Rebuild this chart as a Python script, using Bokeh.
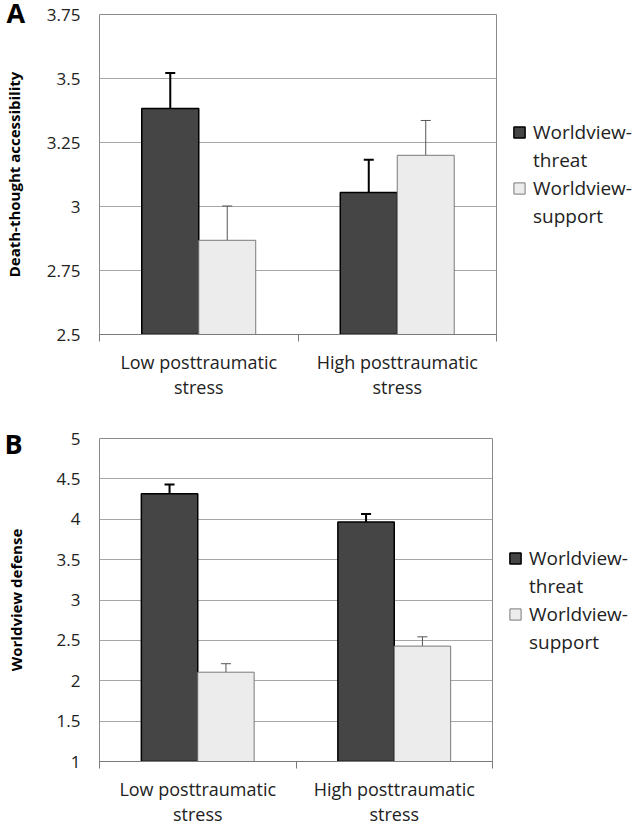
from bokeh.plotting import figure
from bokeh.models import (ColumnDataSource, Range1d, FixedTicker, Whisker, TeeHead,
                          Legend, LegendItem)
from bokeh.layouts import column
from bokeh.embed import file_html
from bokeh.resources import INLINE

# ---------------- data ----------------
categories = ["Low posttraumatic\nstress", "High posttraumatic\nstress"]
series_label_lines = [["Worldview-", "threat"], ["Worldview-", "support"]]

a_threat = [3.383, 3.055]
a_threat_err = [0.138, 0.128]
a_support = [2.868, 3.200]
a_support_err = [0.134, 0.136]
a_ticks = [2.5, 2.75, 3.0, 3.25, 3.5, 3.75]
a_tick_labels = ["2.5", "2.75", "3", "3.25", "3.5", "3.75"]
a_ylabel = "Death-thought accessibility"

b_threat = [4.315, 3.965]
b_threat_err = [0.115, 0.10]
b_support = [2.106, 2.429]
b_support_err = [0.105, 0.115]
b_ticks = [1, 1.5, 2, 2.5, 3, 3.5, 4, 4.5, 5]
b_tick_labels = ["1", "1.5", "2", "2.5", "3", "3.5", "4", "4.5", "5"]
b_ylabel = "Worldview defense"

FONT = "Open Sans"
DARK = "#454545"
LIGHT = "#ececec"
BAR_W = 0.287
OFF = BAR_W / 2


def panel(letter, threat, terr, support, serr, ticks, tick_labels, ylabel,
          fw, fh, mleft, mright, mtop, mbottom, title_standoff, letter_lh, letter_standoff):
    n = len(categories)
    centers = [i + 0.5 for i in range(n)]
    p = figure(frame_width=fw, frame_height=fh, output_backend="svg", toolbar_location=None,
               x_range=Range1d(0, n), y_range=Range1d(ticks[0], ticks[-1]),
               min_border_left=mleft, min_border_right=mright, min_border_top=mtop,
               min_border_bottom=mbottom)
    p.background_fill_color = None
    p.border_fill_color = "white"
    p.outline_line_color = "#8a8a8a"
    p.outline_line_width = 1

    s1 = ColumnDataSource(dict(x=[c - OFF for c in centers], top=threat,
                               up=[v + e for v, e in zip(threat, terr)],
                               lo=[v - e for v, e in zip(threat, terr)]))
    s2 = ColumnDataSource(dict(x=[c + OFF for c in centers], top=support,
                               up=[v + e for v, e in zip(support, serr)],
                               lo=[v - e for v, e in zip(support, serr)]))
    r1 = p.vbar(x="x", top="top", bottom=ticks[0], width=BAR_W, source=s1,
                fill_color=DARK, line_color="black", line_width=1.5)
    r2 = p.vbar(x="x", top="top", bottom=ticks[0], width=BAR_W, source=s2,
                fill_color=LIGHT, line_color="#7a7a7a", line_width=1)
    # empty renderer used only for the second (continuation) line of each legend entry
    r_blank = p.vbar(x=[], top=[], width=BAR_W, fill_alpha=0, line_alpha=0)

    w1 = Whisker(base="x", upper="up", lower="lo", source=s1,
                 line_color="black", line_width=2,
                 upper_head=TeeHead(size=10, line_color="black", line_width=2),
                 lower_head=TeeHead(size=10, line_color="black", line_width=2))
    w2 = Whisker(base="x", upper="up", lower="lo", source=s2,
                 line_color="#555555", line_width=1,
                 upper_head=TeeHead(size=10, line_color="#555555", line_width=1),
                 lower_head=TeeHead(size=10, line_color="#555555", line_width=1))
    p.add_layout(w1)
    p.add_layout(w2)

    # grid
    p.xgrid.visible = False
    p.ygrid.ticker = FixedTicker(ticks=ticks)
    p.ygrid.grid_line_color = "#a6a6a6"
    p.ygrid.grid_line_width = 1.2

    # y axis
    ya = p.yaxis[0]
    ya.ticker = FixedTicker(ticks=ticks)
    ya.major_label_overrides = {t: l for t, l in zip(ticks, tick_labels)}
    ya.axis_line_color = None
    ya.major_tick_line_color = None
    ya.minor_tick_line_color = None
    ya.major_tick_out = 0
    ya.major_label_standoff = 19
    ya.major_label_text_font = FONT
    ya.major_label_text_font_size = "17px"
    ya.major_label_text_color = "#222222"
    ya.axis_label = ylabel
    ya.axis_label_text_font = FONT
    ya.axis_label_text_font_style = "bold"
    ya.axis_label_text_font_size = "15px"
    ya.axis_label_text_color = "black"
    ya.axis_label_standoff = title_standoff

    # x axis
    xa = p.xaxis[0]
    xa.ticker = FixedTicker(ticks=centers, minor_ticks=[float(i) for i in range(n + 1)])
    xa.major_label_overrides = {c: l for c, l in zip(centers, categories)}
    xa.axis_line_color = "#7a7a7a"
    xa.major_tick_line_color = None
    xa.major_tick_out = 0
    xa.major_tick_in = 0
    xa.minor_tick_line_color = "#7a7a7a"
    xa.minor_tick_out = 7
    xa.minor_tick_in = 0
    xa.major_label_standoff = 8
    xa.major_label_text_font = FONT
    xa.major_label_text_font_size = "18px"
    xa.major_label_text_color = "#222222"
    xa.major_label_text_line_height = 1.08

    items = []
    for rend, lines in zip([r1, r2], series_label_lines):
        items.append(LegendItem(label=lines[0], renderers=[rend]))
        for extra in lines[1:]:
            items.append(LegendItem(label=extra, renderers=[r_blank]))
    legend = Legend(items=items, location="center_left", orientation="vertical")
    legend.border_line_color = None
    legend.background_fill_color = None
    legend.background_fill_alpha = 0
    legend.label_text_font = FONT
    legend.label_text_font_size = "19px"
    legend.label_text_color = "#222222"
    legend.label_text_line_height = 1.0
    legend.glyph_width = 14
    legend.glyph_height = 14
    legend.label_standoff = 7
    legend.spacing = 2
    legend.padding = 0
    legend.margin = 16
    p.add_layout(legend, "right")

    # panel letter as a left-aligned title pulled over the corner
    p.title.text = "\n" + letter
    p.title.align = "left"
    p.title.vertical_align = "top"
    p.title.offset = -mleft
    p.title.standoff = letter_standoff
    p.title.text_font = FONT
    p.title.text_font_style = "bold"
    p.title.text_font_size = "27px"
    p.title.text_line_height = letter_lh
    p.title.text_color = "black"
    return p


pA = panel("A", a_threat, a_threat_err, a_support, a_support_err, a_ticks, a_tick_labels,
           a_ylabel, 397, 320, 93, 130, 13, 82, 20, 0.35, -38)
pB = panel("B", b_threat, b_threat_err, b_support, b_support_err, b_ticks, b_tick_labels,
           b_ylabel, 393, 323, 95, 132, 22, 66, 28, 0.93, -51)

layout = column(pA, pB, spacing=0)
open("out.html", "w").write(file_html(layout, INLINE))
